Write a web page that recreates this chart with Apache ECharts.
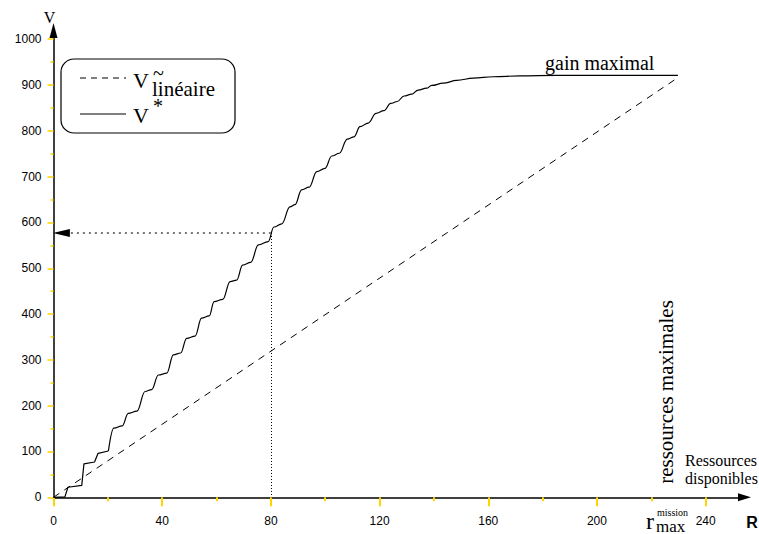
<!DOCTYPE html>
<html><head><meta charset="utf-8">
<script src="https://cdn.jsdelivr.net/npm/echarts@6/dist/echarts.min.js"></script>
<style>html,body{margin:0;padding:0;background:#fff}#c{width:759px;height:534px}</style>
</head><body><div id="c"></div>
<script>
const xTickLabels = [0, 40, 80, 120, 160, 200, 240];
const xMinorTicks = [20, 60, 100, 140, 180, 220];
const yTickLabels = [0, 100, 200, 300, 400, 500, 600, 700, 800, 900, 1000];
const yMinorTicks = [50, 150, 250, 350, 450, 550, 650, 750, 850, 950];
const linearPoints = [[0, 0], [229, 913]];
const stepPoints = [[0, 0], [4.2, 1], [5.3, 22], [10.4, 26], [11.2, 73], [15.1, 77], [16.4, 96], [20.2, 101]];
const wavePoints = [[20.2, 101], [22.2, 151], [25.3, 156], [27.5, 183], [30.7, 188], [33.7, 231], [36.1, 235],
  [38.6, 267], [41.7, 271], [44.1, 311], [46.8, 315], [49.0, 347], [52.1, 352], [54.5, 391], [57.3, 396],
  [59.1, 427], [62.3, 432], [65.0, 471], [67.4, 474], [69.6, 507], [72.6, 513], [75.4, 551], [79.0, 558],
  [81.1, 590], [84.0, 597], [87.0, 634], [88.9, 639], [91.3, 671], [94.1, 677], [96.9, 711], [99.9, 718],
  [102.4, 745], [105.2, 751], [108.1, 782], [110.6, 787], [112.8, 809], [115.8, 817], [118.7, 838],
  [121.6, 844], [124.1, 860], [126.5, 864], [129.0, 876], [131.8, 880], [134.2, 889], [137.3, 893],
  [139.2, 899], [143.4, 904], [148.4, 910], [154.5, 915], [161.8, 918], [171.7, 920], [185, 921],
  [200, 921], [229.8, 921]];
const readR = 80;
const readV = 577;
const arrowEndR = 2.9;
const arrowStartR = 4.5;

const serif = '"Liberation Serif", "DejaVu Serif", serif';
const sans = '"Liberation Sans", Arial, sans-serif';
const yellow = '#ffd500';

const chart = echarts.init(document.getElementById('c'), null, {renderer: 'svg'});
const xMax = 254.3, yMax = 1019;
const baseX = {
  type: 'value', min: 0, max: xMax, position: 'bottom', splitLine: {show: false}
};
const baseY = {
  type: 'value', min: 0, max: yMax, position: 'left', splitLine: {show: false}
};
const plain = v => String(v);
chart.setOption({
  animation: false,
  backgroundColor: '#fff',
  grid: {left: 53.5, right: 14.5, top: 30.5, bottom: 36.7},
  xAxis: [
    Object.assign({}, baseX, {
      axisLine: {show: true, lineStyle: {color: '#000', width: 1.5}, symbol: ['none', 'triangle'], symbolSize: [8, 13]},
      axisTick: {show: true, customValues: xTickLabels, length: 9, lineStyle: {color: yellow, width: 2}},
      axisLabel: {show: true, customValues: xTickLabels, formatter: plain, margin: 18, fontSize: 12, color: '#000', fontFamily: sans}
    }),
    Object.assign({}, baseX, {
      axisLine: {show: false},
      axisTick: {show: true, customValues: xMinorTicks, length: 4, lineStyle: {color: yellow, width: 2}},
      axisLabel: {show: false}
    })
  ],
  yAxis: [
    Object.assign({}, baseY, {
      axisLine: {show: true, lineStyle: {color: '#000', width: 1.5}, symbol: ['none', 'triangle'], symbolSize: [8, 15]},
      axisTick: {show: true, customValues: yTickLabels, length: 6, lineStyle: {color: yellow, width: 1.5}},
      axisLabel: {show: true, customValues: yTickLabels, formatter: plain, margin: 12, fontSize: 12, color: '#000', fontFamily: sans, padding: [8, 0, 0, 0]}
    }),
    Object.assign({}, baseY, {
      axisLine: {show: false},
      axisTick: {show: true, customValues: yMinorTicks, length: 3, lineStyle: {color: yellow, width: 1.5}},
      axisLabel: {show: false}
    })
  ],
  series: [
    {
      type: 'line', name: 'lineaire', data: linearPoints, showSymbol: false, symbol: 'none',
      lineStyle: {color: '#000', width: 1, type: [7, 6]}, silent: true
    },
    {
      type: 'line', name: 'steps', data: stepPoints, showSymbol: false, symbol: 'none',
      lineStyle: {color: '#000', width: 1.2}, silent: true,
      markLine: {
        silent: true, animation: false, label: {show: false},
        symbol: ['none', 'none'],
        lineStyle: {color: '#777', width: 2, type: [2, 4]},
        data: [[{coord: [readR, readV]}, {coord: [arrowStartR, readV]}]]
      }
    },
    {
      type: 'line', name: 'vstar', data: wavePoints, showSymbol: false, symbol: 'none',
      smooth: 0.4, smoothMonotone: 'x',
      lineStyle: {color: '#000', width: 1.2}, silent: true,
      markLine: {
        silent: true, animation: false, label: {show: false},
        symbol: ['none', 'none'],
        lineStyle: {color: '#000', width: 1, type: [1, 2]},
        data: [[{coord: [readR, readV]}, {coord: [readR, 0]}]]
      }
    },
    {
      type: 'line', name: 'arrowhead', data: [], silent: true,
      markLine: {
        silent: true, animation: false, label: {show: false},
        symbol: ['none', 'triangle'], symbolSize: [8, 17],
        lineStyle: {color: '#000', width: 1, type: 'solid'},
        data: [[{coord: [arrowStartR, readV]}, {coord: [arrowEndR, readV]}]]
      }
    }
  ],
  graphic: [
    {type: 'rect', shape: {x: 61, y: 59, width: 174, height: 74, r: 13}, style: {fill: '#fff', stroke: '#000', lineWidth: 1.2}},
    {type: 'line', shape: {x1: 80, y1: 78, x2: 126, y2: 78}, style: {stroke: '#000', lineWidth: 1, lineDash: [6, 5]}},
    {type: 'line', shape: {x1: 80, y1: 114, x2: 126, y2: 114}, style: {stroke: '#000', lineWidth: 1.2}},
    {type: 'text', x: 133, y: 80, style: {text: 'V', font: '22px ' + serif, fill: '#000', verticalAlign: 'middle'}},
    {type: 'text', x: 133, y: 115, style: {text: 'V', font: '22px ' + serif, fill: '#000', verticalAlign: 'middle'}},
    {type: 'text', x: 152, y: 67, style: {
      text: '{t|~}\n{l|linéaire}\n{s|*}', verticalAlign: 'top', fill: '#000',
      rich: {
        t: {fontFamily: serif, fontSize: 20, lineHeight: 12, padding: [0, 0, 0, 1]},
        l: {fontFamily: serif, fontSize: 21, lineHeight: 20},
        s: {fontFamily: serif, fontSize: 20, lineHeight: 14, padding: [0, 0, 0, 1]}
      }
    }},
    {type: 'text', x: 49.5, y: 17.5, style: {text: 'V', font: '16px ' + serif, fill: '#000', align: 'center', verticalAlign: 'middle'}},
    {type: 'text', x: 752, y: 522.5, style: {text: 'R', font: 'bold 16px ' + sans, fill: '#000', align: 'center', verticalAlign: 'middle'}},
    {type: 'text', x: 545, y: 63, style: {text: 'gain maximal', font: '20px ' + serif, fill: '#000', verticalAlign: 'middle'}},
    {type: 'text', x: 666, y: 392, rotation: Math.PI / 2, style: {text: 'ressources maximales', font: '21px ' + serif, fill: '#000', align: 'center', verticalAlign: 'middle'}},
    {type: 'text', x: 685, y: 460, style: {text: 'Ressources', font: '16px ' + serif, fill: '#000', verticalAlign: 'middle'}},
    {type: 'text', x: 685, y: 478, style: {text: 'disponibles', font: '16px ' + serif, fill: '#000', verticalAlign: 'middle'}},
    {type: 'text', x: 646, y: 521, style: {text: 'r', font: '24px ' + serif, fill: '#000', verticalAlign: 'middle'}},
    {type: 'text', x: 656, y: 526, style: {text: 'max', font: '17px ' + serif, lineHeight: 14, fill: '#000', verticalAlign: 'middle'}},
    {type: 'text', x: 657, y: 512, style: {text: 'mission', font: '10px ' + serif, fill: '#000', verticalAlign: 'middle'}}
  ]
});
</script>
</body></html>
